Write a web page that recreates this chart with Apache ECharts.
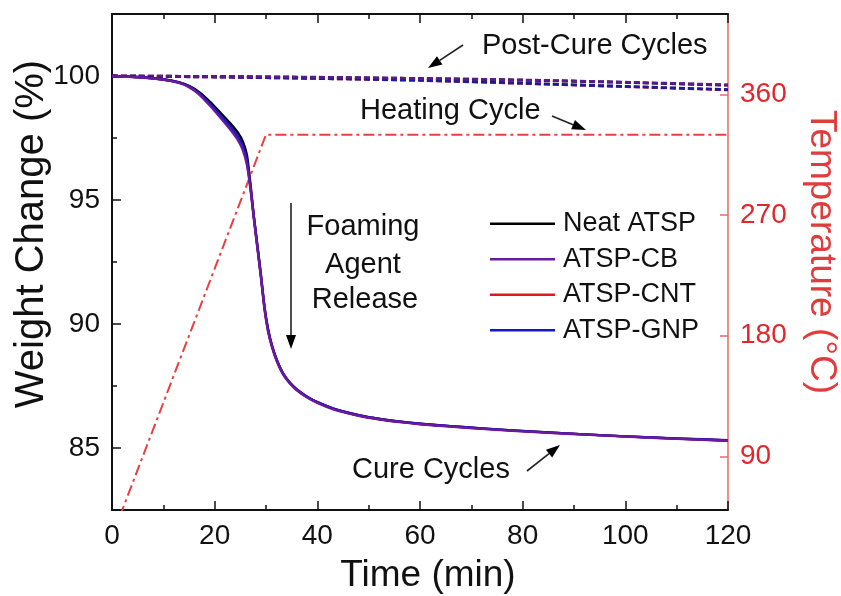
<!DOCTYPE html>
<html>
<head>
<meta charset="utf-8">
<title>Weight change and temperature</title>
<script src="https://cdn.jsdelivr.net/npm/echarts@6/dist/echarts.min.js"></script>
<style>
  html, body { margin: 0; padding: 0; background: #fff; }
  #chart { width: 841px; height: 596px; }
</style>
</head>
<body>
<div id="chart"></div>
<script>
// Time axis (min) shared by the four cure curves
const timeMin = [0, 5, 10, 13, 15, 17, 19, 21, 23, 24.5, 25.5, 26.3, 27, 27.6, 28.3, 29, 29.7, 30.4, 31.2, 32.2,
                 33.3, 34.6, 36, 38, 40, 43, 46, 50, 55, 60, 66, 72, 78, 85, 92, 100, 110, 120];

// Weight change (%) during the cure cycles
const neatWeight = [100, 99.96, 99.87, 99.75, 99.6, 99.35, 98.98, 98.55, 98.1, 97.72, 97.35, 96.8, 95.6,
                    94.4, 93.2, 92.0, 90.7, 89.8, 89.1, 88.5, 88.02, 87.65, 87.36, 87.07, 86.85, 86.6, 86.42,
                    86.24, 86.09, 85.98, 85.88, 85.79, 85.71, 85.63, 85.55, 85.47, 85.38, 85.3];
const cbWeight   = [100, 99.95, 99.85, 99.72, 99.55, 99.25, 98.82, 98.35, 97.85, 97.42, 97.0, 96.4, 95.4,
                    94.3, 93.1, 91.9, 90.6, 89.7, 89.05, 88.45, 87.98, 87.61, 87.33, 87.04, 86.82, 86.57, 86.4,
                    86.22, 86.07, 85.96, 85.86, 85.77, 85.69, 85.61, 85.54, 85.46, 85.37, 85.29];
const cntWeight  = [100, 99.95, 99.86, 99.73, 99.57, 99.28, 98.86, 98.4, 97.92, 97.5, 97.1, 96.5, 95.45,
                    94.35, 93.15, 91.95, 90.65, 89.75, 89.08, 88.48, 88.0, 87.63, 87.35, 87.06, 86.84, 86.59, 86.41,
                    86.23, 86.08, 85.97, 85.87, 85.78, 85.7, 85.62, 85.55, 85.47, 85.38, 85.3];
const gnpWeight  = [100, 99.96, 99.86, 99.74, 99.58, 99.3, 98.9, 98.45, 97.98, 97.56, 97.18, 96.6, 95.5,
                    94.38, 93.18, 91.98, 90.68, 89.78, 89.1, 88.5, 88.01, 87.64, 87.36, 87.07, 86.85, 86.6, 86.42,
                    86.24, 86.09, 85.98, 85.88, 85.79, 85.71, 85.63, 85.55, 85.47, 85.39, 85.31];

// Post-cure cycles (dashed)
const postTime = [0, 20, 40, 60, 80, 100, 120];
const neatPost = [100, 99.98, 99.94, 99.9, 99.83, 99.74, 99.63];
const cbPost   = [100, 99.98, 99.95, 99.9, 99.84, 99.75, 99.64];
const cntPost  = [100, 99.96, 99.9, 99.82, 99.7, 99.57, 99.44];
const gnpPost  = [100, 99.96, 99.9, 99.83, 99.71, 99.58, 99.45];

// Heating cycle: temperature program (°C)
const heatTime = [0, 30, 120];
const heatTemp = [30, 330, 330];

// Tick labels
const xTicks = [0, 20, 40, 60, 80, 100, 120];
const weightTicks = [85, 90, 95, 100];
const weightMinorTicks = [87.5, 92.5, 97.5];
const tempTicks = [90, 180, 270, 360];

const seriesNames = ['Neat ATSP', 'ATSP-CB', 'ATSP-CNT', 'ATSP-GNP'];

const FONT = '"Liberation Sans", Arial, sans-serif';
const RED = '#e3262a';

function pairs(xs, ys) { return xs.map((x, i) => [x, ys[i]]); }

function solid(name, ys, color) {
  return {
    name: name, type: 'line', xAxisIndex: 0, yAxisIndex: 0,
    data: pairs(timeMin, ys), symbol: 'none', smooth: 0.15,
    itemStyle: { color: color },
    lineStyle: { color: color, width: 2.4, join: 'round' }
  };
}
function dashed(name, ys, color) {
  return {
    name: name, type: 'line', xAxisIndex: 0, yAxisIndex: 0,
    data: pairs(postTime, ys), symbol: 'none', smooth: 0.3,
    itemStyle: { color: color },
    lineStyle: { color: color, width: 2.8, type: [6, 3] }
  };
}

// Arrow annotation built from a shaft and a filled head
function arrow(x1, y1, x2, y2, head, width) {
  const ang = Math.atan2(y2 - y1, x2 - x1);
  const hl = head || 14, hw = (width || 10) / 2;
  const bx = x2 - hl * Math.cos(ang), by = y2 - hl * Math.sin(ang);
  const px = -Math.sin(ang) * hw, py = Math.cos(ang) * hw;
  return [
    { type: 'line', silent: true, shape: { x1: x1, y1: y1, x2: bx, y2: by },
      style: { stroke: '#222', lineWidth: 1.6 } },
    { type: 'polygon', silent: true,
      shape: { points: [[x2, y2], [bx + px, by + py], [bx - px, by - py]] },
      style: { fill: '#000' } }
  ];
}

function label(text, x, y, align, size, color, rotation) {
  return {
    type: 'text', silent: true, x: x, y: y, rotation: rotation || 0,
    style: { text: text, fill: color || '#111', font: (size || 28) + 'px ' + FONT,
             align: align || 'left', verticalAlign: 'middle' }
  };
}

const chart = echarts.init(document.getElementById('chart'), null, { renderer: 'canvas' });

const option = {
  animation: false,
  backgroundColor: '#fff',
  grid: { left: 112, right: 113, top: 14, bottom: 86, containLabel: false },
  legend: {
    data: seriesNames.map(n => ({ name: n, icon: 'rect' })),
    orient: 'vertical', left: 485, top: 201,
    itemWidth: 65, itemHeight: 2.5, itemGap: 0,
    selectedMode: false,
    textStyle: { fontFamily: FONT, fontSize: 27, color: '#111', lineHeight: 35.5, padding: [0, 0, 0, 3] }
  },
  xAxis: [
    {
      type: 'value', position: 'bottom', min: 0, max: 120, interval: 20,
      axisLine: { show: true, lineStyle: { color: '#111', width: 2 } },
      axisTick: { show: true, inside: true, length: 9, lineStyle: { color: '#111', width: 1.5 } },
      minorTick: { show: true, splitNumber: 2, length: 5, lineStyle: { color: '#111', width: 1.5 } },
      axisLabel: { fontFamily: FONT, fontSize: 28, color: '#111', margin: 12,
                   customValues: xTicks },
      splitLine: { show: false }
    },
    {
      type: 'value', position: 'top', min: 0, max: 120, interval: 20,
      axisLine: { show: true, lineStyle: { color: '#111', width: 2 } },
      axisTick: { show: true, inside: true, length: 9, lineStyle: { color: '#111', width: 1.5 } },
      minorTick: { show: true, splitNumber: 2, length: 5, lineStyle: { color: '#111', width: 1.5 } },
      axisLabel: { show: false },
      splitLine: { show: false }
    }
  ],
  yAxis: [
    {
      type: 'value', position: 'left', min: 82.5, max: 102.5,
      axisLine: { show: true, onZero: false, lineStyle: { color: '#111', width: 2 } },
      axisTick: { show: true, inside: true, length: 9, customValues: weightTicks,
                  lineStyle: { color: '#111', width: 1.5 } },
      axisLabel: { fontFamily: FONT, fontSize: 28, color: '#111', margin: 12,
                   customValues: weightTicks },
      splitLine: { show: false }
    },
    {
      type: 'value', position: 'right', min: 50, max: 420,
      axisLine: { show: true, onZero: false, lineStyle: { color: '#e86a6a', width: 1.5 } },
      axisTick: { show: true, inside: true, length: 8, customValues: tempTicks,
                  lineStyle: { color: '#e86a6a', width: 1.5 } },
      axisLabel: { fontFamily: FONT, fontSize: 28, color: RED, margin: 12,
                   customValues: tempTicks },
      splitLine: { show: false }
    },
    {
      type: 'value', position: 'left', min: 82.5, max: 102.5,
      axisLine: { show: false },
      axisTick: { show: true, inside: true, length: 5, customValues: weightMinorTicks,
                  lineStyle: { color: '#111', width: 1.5 } },
      axisLabel: { show: false },
      splitLine: { show: false }
    }
  ],
  series: [
    {
      name: 'Heating Cycle', type: 'line', xAxisIndex: 0, yAxisIndex: 1,
      data: pairs(heatTime, heatTemp), symbol: 'none', clip: true,
      lineStyle: { color: '#e8403f', width: 2, type: [11, 4, 3, 4] },
      itemStyle: { color: '#e8403f' }
    },
    dashed('Neat ATSP post-cure', neatPost, '#111111'),
    dashed('ATSP-CNT post-cure', cntPost, '#d42020'),
    dashed('ATSP-GNP post-cure', gnpPost, '#1a1a9a'),
    dashed('ATSP-CB post-cure', cbPost, '#5a1a8a'),
    solid('Neat ATSP', neatWeight, '#000000'),
    solid('ATSP-CNT', cntWeight, '#e01818'),
    solid('ATSP-GNP', gnpWeight, '#1515d0'),
    solid('ATSP-CB', cbWeight, '#6a1a9a')
  ],
  graphic: [
    // axis titles
    label('Time (min)', 428, 576, 'center', 37, '#111'),
    label('Weight Change (%)', 32, 234, 'center', 40, '#111', Math.PI / 2),
    label('Temperature (\u00B0C)', 821, 252, 'center', 37, '#e03c3c', -Math.PI / 2),
    // annotations
    label('Post-Cure Cycles', 482, 46, 'left', 29),
    ...arrow(463, 45, 428, 68),
    label('Heating Cycle', 360, 111, 'left', 29),
    ...arrow(552, 116, 586, 130),
    label('Foaming', 363, 227, 'center', 29),
    label('Agent', 363, 265, 'center', 29),
    label('Release', 365, 300, 'center', 29),
    ...arrow(291, 203, 291, 349),
    label('Cure Cycles', 352, 470, 'left', 29),
    ...arrow(527, 471, 560, 445)
  ]
};

chart.setOption(option);
</script>
</body>
</html>
